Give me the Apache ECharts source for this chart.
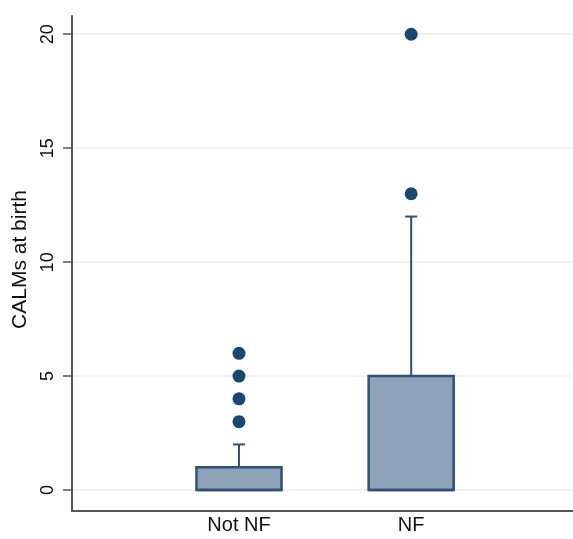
<!DOCTYPE html>
<html>
<head>
<meta charset="utf-8">
<script src="https://cdn.jsdelivr.net/npm/echarts@6/dist/echarts.min.js"></script>
<style>
html,body{margin:0;padding:0;background:#fff}
#main{width:573px;height:539px}
</style>
</head>
<body>
<div id="main"></div>
<script>
// groups, position on the x scale
const categories = ['Not NF', 'NF']
const positions = [1, 2]
// box statistics
const whiskerLow = [0, 0]
const q1 = [0, 0]
const median = [0, 0]
const q3 = [1, 5]
const whiskerHigh = [2, 12]
// outside values
const outliersNotNF = [3, 4, 5, 6]
const outliersNF = [13, 20]
const yTicks = [0, 5, 10, 15, 20]

let boxData = categories.map((c, i) => [positions[i], whiskerLow[i], q1[i], median[i], q3[i], whiskerHigh[i]])
let outlierData = []
outliersNotNF.forEach(v => outlierData.push([positions[0], v]))
outliersNF.forEach(v => outlierData.push([positions[1], v]))

const boxColor = '#8ea3b9'
const lineColor = '#2f5175'
const dotColor = '#1a476f'

function renderBox(params, api) {
    let x = api.value(0)
    let halfW = 0.247
    let lo = api.coord([x, api.value(1)])
    let b1 = api.coord([x - halfW, api.value(2)])
    let med = api.value(3)
    let b3 = api.coord([x + halfW, api.value(4)])
    let hi = api.coord([x, api.value(5)])
    let capHalf = 6
    let children = []
    // upper whisker + cap
    if (hi[1] < b3[1]) {
        children.push({type: 'line', shape: {x1: hi[0], y1: b3[1], x2: hi[0], y2: hi[1]}, style: {stroke: lineColor, lineWidth: 2}})
        children.push({type: 'line', shape: {x1: hi[0] - capHalf, y1: hi[1], x2: hi[0] + capHalf, y2: hi[1]}, style: {stroke: lineColor, lineWidth: 2}})
    }
    if (lo[1] > b1[1]) {
        children.push({type: 'line', shape: {x1: lo[0], y1: b1[1], x2: lo[0], y2: lo[1]}, style: {stroke: lineColor, lineWidth: 2}})
        children.push({type: 'line', shape: {x1: lo[0] - capHalf, y1: lo[1], x2: lo[0] + capHalf, y2: lo[1]}, style: {stroke: lineColor, lineWidth: 2}})
    }
    children.push({type: 'rect', shape: {x: b1[0], y: b3[1], width: b3[0] - b1[0], height: b1[1] - b3[1]},
        style: {fill: boxColor, stroke: lineColor, lineWidth: 2.5}})
    let m = api.coord([x, med])
    children.push({type: 'line', shape: {x1: b1[0], y1: m[1], x2: b3[0], y2: m[1]}, style: {stroke: lineColor, lineWidth: 2.5}})
    return {type: 'group', children: children}
}

let chart = echarts.init(document.getElementById('main'))
let option = {
    animation: false,
    backgroundColor: '#fff',
    textStyle: {fontFamily: 'Liberation Sans, Arial, sans-serif'},
    grid: {left: 72, right: 0, top: 16, bottom: 28},
    xAxis: {
        type: 'value',
        min: 0.03,
        max: 2.94,
        axisLine: {show: true, onZero: false, lineStyle: {color: '#555', width: 2}},
        axisTick: {show: false},
        splitLine: {show: false},
        axisLabel: {
            customValues: positions,
            formatter: v => categories[positions.indexOf(v)] || '',
            color: '#111', fontSize: 20, margin: 4
        }
    },
    yAxis: {
        type: 'value',
        min: -0.92,
        max: 20.8,
        name: 'CALMs at birth',
        nameLocation: 'middle',
        nameRotate: 90,
        nameGap: 34,
        nameTextStyle: {color: '#111', fontSize: 21, padding: [0, 0, 0, 8]},
        axisLine: {show: true, lineStyle: {color: '#555', width: 2}},
        axisTick: {show: true, customValues: yTicks, length: 9, lineStyle: {color: '#555', width: 1.5}},
        axisLabel: {customValues: yTicks, rotate: 90, color: '#111', fontSize: 18, margin: 15},
        splitLine: {show: true, lineStyle: {color: '#ececec', width: 1.5}}
    },
    series: [
        {
            type: 'custom',
            renderItem: renderBox,
            encode: {x: 0, y: [1, 2, 3, 4, 5]},
            data: boxData
        },
        {
            type: 'scatter',
            symbolSize: 13,
            itemStyle: {color: dotColor, opacity: 1},
            data: outlierData
        }
    ]
}
chart.setOption(option)
</script>
</body>
</html>
